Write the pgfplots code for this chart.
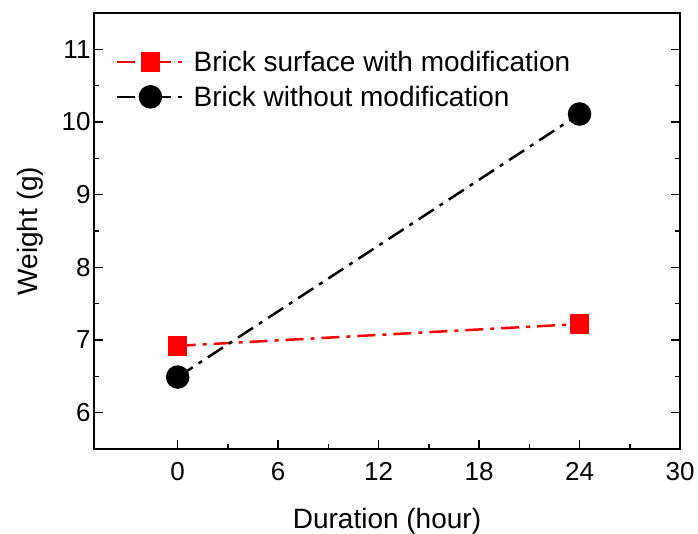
\documentclass[border=0pt]{standalone}
\usepackage{fontspec}
\setmainfont{Liberation Sans}
\usepackage{pgfplots}
\pgfplotsset{compat=1.18}
\begin{document}
\begin{tikzpicture}
\begin{axis}[
 scale only axis, width=586bp, height=436bp,
 xmin=-5, xmax=30, ymin=5.5, ymax=11.5,
 xtick={0,6,...,30}, ytick={6,...,11},
 minor x tick num=1, minor y tick num=1,
 xtick pos=bottom, ytick pos=both, tick align=inside,
 yticklabel pos=left,
 major tick length=9bp, minor tick length=5bp,
 axis line style={line width=2bp},
 every tick/.style={line width=1.5bp, black},
 ticklabel style={font=\fontsize{26bp}{30bp}\selectfont},
 /pgf/number format/assume math mode=true,
 xticklabel style={yshift=-10bp},
 label style={font=\fontsize{28bp}{32bp}\selectfont},
 xlabel={Duration (hour)}, ylabel={Weight (g)},
 xlabel style={at={(axis description cs:0.5,-0.165)},anchor=center},
 ylabel style={at={(axis description cs:-0.109,0.5)},anchor=center},
 legend style={at={(rel axis cs:0,1)}, anchor=north west, draw=none, fill=none,
   font=\fontsize{28bp}{32bp}\selectfont, inner sep=0pt, row sep=9bp,
   xshift=22bp, yshift=-36bp,
   /tikz/every odd column/.append style={column sep=7bp}},
 legend cell align=left,
 legend image code/.code={\draw[#1, mark repeat=2, mark phase=2] plot coordinates {(0bp,0bp) (33bp,0bp) (66bp,0bp)};},
]
\addplot[red, line width=2.5bp, dash pattern=on 18bp off 7bp on 4bp off 7bp,
  mark=square*, mark size=8.5bp, mark options={solid}] coordinates {(0,6.92) (24,7.22)};
\addlegendentry{Brick surface with modification}
\addplot[black, line width=2.5bp, dash pattern=on 18bp off 7bp on 4bp off 7bp,
  mark=*, mark size=10.5bp, mark options={solid}] coordinates {(0,6.49) (24,10.11)};
\addlegendentry{Brick without modification}
\end{axis}
\pgfresetboundingbox
\path[use as bounding box] (current axis.south west) ++(-94bp,-85bp) rectangle ++(698bp,534bp);
\end{tikzpicture}
\end{document}
